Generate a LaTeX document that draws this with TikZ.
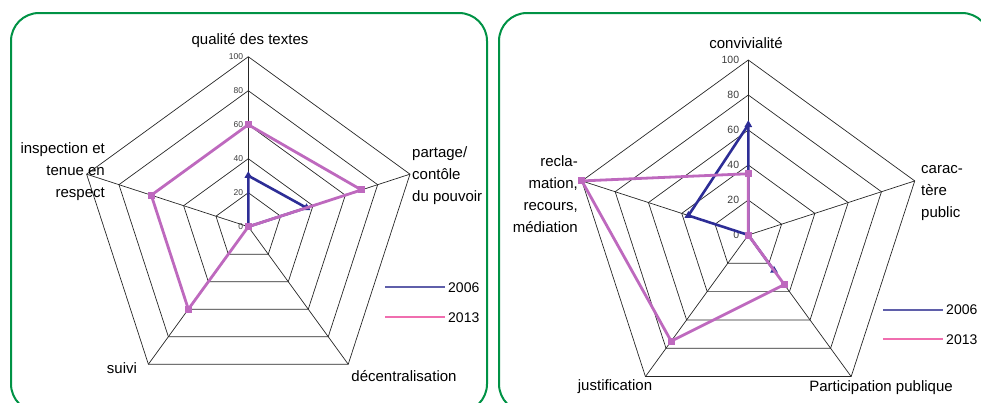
\documentclass[tikz,border=0pt]{standalone}
\usepackage{fontspec}
\setmainfont{Liberation Sans}
\usetikzlibrary{shapes.geometric}
\definecolor{framegreen}{RGB}{0,146,69}
\definecolor{dblue}{RGB}{45,45,150}
\definecolor{dpink}{RGB}{190,105,190}
\definecolor{lblue}{RGB}{95,95,170}
\definecolor{lpink}{RGB}{240,110,175}
\definecolor{ticklabel}{RGB}{60,60,60}
\begin{document}
\begin{tikzpicture}[x=1pt,y=-1pt,
  panel/.style={draw=framegreen, line width=2pt, rounded corners=28pt},
  gridline/.style={draw=black!85, line width=0.7pt},
  lbl/.style={inner sep=0pt, font=\fontsize{15}{22}\selectfont},
  legtext/.style={inner sep=0pt, anchor=west, font=\fontsize{14}{16}\selectfont},
  ticklbl/.style={inner sep=0pt, anchor=east, text=ticklabel},
  blueline/.style={draw=dblue, line width=2.6pt, line join=round},
  pinkline/.style={draw=dpink, line width=2.8pt, line join=round},
  sqmark/.style={fill=dpink, minimum size=7pt, inner sep=0pt},
  trimark/.style={regular polygon, regular polygon sides=3, fill=dblue, minimum size=9pt, inner sep=0pt}]
\useasboundingbox (0,0) rectangle (981,402);
\draw[panel] (11,13) rectangle (487,412);
\draw[panel] (499,13) rectangle (990,412);

% ---------------- left radar ----------------
\begin{scope}[shift={(248.3,226.7)}]
  \foreach \f in {1,2,3,4,5}
    \draw[gridline] (90:\f*34pt) -- (18:\f*34pt) -- (-54:\f*34pt) -- (-126:\f*34pt) -- (162:\f*34pt) -- cycle;
  \foreach \a in {90,18,-54,-126,162}
    \draw[gridline] (0,0) -- (\a:170pt);
  \foreach \v in {0,20,40,60,80,100}
    \node[ticklbl, font=\fontsize{8.5}{9}\selectfont] (tl\v) at (-5,{-1.7*\v}) {\v};
  % 2006
  \coordinate (lb1) at (90:51pt);
  \coordinate (lb2) at (18:61.2pt);
  \coordinate (lb0) at (0,0);
  \draw[blueline] (lb0) -- (lb1) -- (lb2) -- cycle;
  \node[trimark] at (lb1) {};
  \node[trimark] at (lb2) {};
  % 2013
  \coordinate (lp1) at (90:102pt);
  \coordinate (lp2) at (18:119pt);
  \coordinate (lp3) at (0,0);
  \coordinate (lp4) at (-126:102pt);
  \coordinate (lp5) at (162:102pt);
  \draw[pinkline] (lp1) -- (lp2) -- (lp3) -- (lp4) -- (lp5) -- cycle;
  \foreach \p in {lp1,lp2,lp3,lp4,lp5} \node[sqmark] at (\p) {};
\end{scope}

\node[lbl] (lq) at (250,41) {qualité des textes};
\node[lbl, align=left, anchor=west] (lpart) at (412,176) {partage/\\contôle\\du pouvoir};
\node[lbl, align=right, anchor=east] (linsp) at (105,172) {inspection et\\tenue en\\respect};
\node[lbl] (lsuivi) at (122,368) {suivi};
\node[lbl] (ldec) at (404,376) {décentralisation};

\coordinate (lla) at (385,287.3);
\coordinate (llb) at (445,287.3);
\draw[draw=lblue, line width=2.2pt] (lla) -- (llb);
\node[legtext] (lleg1) at (448,287.3) {2006};
\coordinate (llc) at (385,317.3);
\coordinate (lld) at (445,317.3);
\draw[draw=lpink, line width=2.2pt] (llc) -- (lld);
\node[legtext] (lleg2) at (448,317.3) {2013};

% ---------------- right radar ----------------
\begin{scope}[shift={(748.3,235)}]
  \foreach \f in {1,2,3,4,5}
    \draw[gridline] (90:\f*35pt) -- (18:\f*35pt) -- (-54:\f*35pt) -- (-126:\f*35pt) -- (162:\f*35pt) -- cycle;
  \foreach \a in {90,18,-54,-126,162}
    \draw[gridline] (0,0) -- (\a:175pt);
  \foreach \v in {0,20,40,60,80,100}
    \node[ticklbl, font=\fontsize{10.5}{11}\selectfont] (tr\v) at (-9,{-1.75*\v}) {\v};
  % 2006
  \coordinate (rb1) at (90:110.25pt);
  \coordinate (rb2) at (0,0);
  \coordinate (rb3) at (-54:43.75pt);
  \coordinate (rb4) at (0,0);
  \coordinate (rb5) at (162:63pt);
  \draw[blueline] (rb1) -- (rb2) -- (rb3) -- (rb4) -- (rb5) -- cycle;
  \foreach \p in {rb1,rb3,rb5} \node[trimark] at (\p) {};
  % 2013
  \coordinate (rp1) at (90:61.25pt);
  \coordinate (rp2) at (0,0);
  \coordinate (rp3) at (-54:61.25pt);
  \coordinate (rp4) at (-126:131.25pt);
  \coordinate (rp5) at (162:175pt);
  \draw[pinkline] (rp1) -- (rp2) -- (rp3) -- (rp4) -- (rp5) -- cycle;
  \foreach \p in {rp1,rp2,rp3,rp4,rp5} \node[sqmark] at (\p) {};
\end{scope}

\node[lbl] (rconv) at (746,43) {convivialité};
\node[lbl, align=left, anchor=west] (rcar) at (921,193) {carac-\\tère\\public};
\node[lbl, align=right, anchor=east] (rrec) at (578,194) {recla-\\mation,\\recours,\\médiation};
\node[lbl] (rjust) at (615,387) {justification};
\node[lbl] (rpart) at (881,388) {Participation publique};

\coordinate (rla) at (883,310);
\coordinate (rlb) at (943,310);
\draw[draw=lblue, line width=2.2pt] (rla) -- (rlb);
\node[legtext] (rleg1) at (946,310) {2006};
\coordinate (rlc) at (883,339.3);
\coordinate (rld) at (943,339.3);
\draw[draw=lpink, line width=2.2pt] (rlc) -- (rld);
\node[legtext] (rleg2) at (946,339.3) {2013};
\end{tikzpicture}
\end{document}
